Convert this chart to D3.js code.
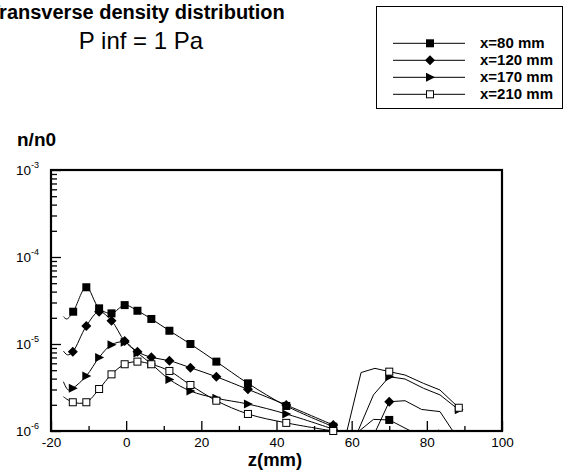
<!DOCTYPE html>
<html>
<head>
<meta charset="utf-8">
<script src="https://cdn.jsdelivr.net/npm/d3@7"></script>
<style>
  body { margin: 0; background: #fff; }
  svg { display: block; font-family: "Liberation Sans", Arial, sans-serif; }
</style>
</head>
<body>
<div class="chart"></div>
<script>
// DATA ------------------------------
const seriesNames = ["x=80 mm", "x=120 mm", "x=170 mm", "x=210 mm"];
const seriesSymbols = ["sq", "dia", "tri", "osq"];

// [z (mm), n/n0, symbol drawn? 1/0]
const x80 = [
  [-16.7, 2.06e-5, 0], [-15.8, 1.94e-5, 0],
  [-14.1, 2.35e-5, 1], [-10.6, 4.49e-5, 1], [-7.2, 2.57e-5, 1], [-3.9, 2.25e-5, 1],
  [-0.4, 2.8e-5, 1], [3.0, 2.41e-5, 1], [6.7, 1.94e-5, 1], [11.5, 1.42e-5, 1],
  [17.1, 1.0e-5, 1], [24.0, 6.27e-6, 1], [32.4, 3.53e-6, 1], [42.6, 1.94e-6, 1],
  [55.1, 1.12e-6, 1], [59.0, 6.5e-7, 0], [62.0, 1.0e-6, 0], [65.8, 1.36e-6, 0],
  [70.0, 1.34e-6, 1], [75.7, 1.0e-6, 0], [79.5, 7.5e-7, 0], [83.2, 1.03e-6, 0], [86.5, 7e-7, 0]
];
const x120 = [
  [-16.7, 8.3e-6, 0], [-15.6, 7.5e-6, 0],
  [-14.2, 8.15e-6, 1], [-10.6, 1.61e-5, 1], [-7.2, 2.35e-5, 1], [-3.9, 1.85e-5, 1],
  [-0.4, 1.08e-5, 1], [3.0, 8.15e-6, 1], [6.7, 7.03e-6, 1], [11.5, 6.43e-6, 1],
  [17.1, 5.34e-6, 1], [24.0, 4.2e-6, 1], [32.4, 3.01e-6, 1], [42.6, 1.99e-6, 1],
  [55.1, 1.17e-6, 1], [59.5, 6e-7, 0], [64.0, 6e-7, 0], [70.0, 2.17e-6, 1],
  [74.2, 2.23e-6, 0], [78.6, 1.77e-6, 0], [83.5, 1.67e-6, 0], [88.0, 8.5e-7, 0]
];
const x170 = [
  [-16.7, 3.69e-6, 0], [-15.4, 2.96e-6, 0],
  [-14.2, 3.1e-6, 1], [-10.6, 4.3e-6, 1], [-7.2, 7.0e-6, 1], [-3.9, 9.8e-6, 1],
  [-0.4, 1.05e-5, 1], [3.0, 7.9e-6, 1], [6.7, 5.9e-6, 1], [11.5, 3.92e-6, 1],
  [17.1, 2.88e-6, 1], [24.0, 2.38e-6, 1], [32.4, 2.04e-6, 1], [42.6, 1.57e-6, 1],
  [55.1, 1.05e-6, 1], [59.5, 6e-7, 0], [65.8, 2.6e-6, 0], [70.0, 4.2e-6, 1],
  [74.2, 3.96e-6, 0], [79.1, 3.1e-6, 0], [83.5, 2.6e-6, 0], [88.5, 1.75e-6, 1]
];
const x210 = [
  [-16.7, 2.48e-6, 0],
  [-14.2, 2.14e-6, 1], [-10.6, 2.14e-6, 1], [-7.2, 3.04e-6, 1], [-3.9, 4.48e-6, 1],
  [-0.4, 5.85e-6, 1], [3.0, 6.27e-6, 1], [6.7, 5.85e-6, 1], [11.5, 4.9e-6, 1],
  [17.1, 3.38e-6, 1], [24.0, 2.23e-6, 1], [32.4, 1.57e-6, 1], [42.6, 1.24e-6, 1],
  [55.1, 1.0e-6, 1], [57.5, 6e-7, 0], [62.5, 4.7e-6, 0], [66.2, 5.25e-6, 0],
  [70.0, 4.81e-6, 1], [74.2, 4.4e-6, 0], [79.1, 3.53e-6, 0], [83.5, 2.96e-6, 0], [88.5, 1.85e-6, 1]
];
const allSeries = [x80, x120, x170, x210];

const xMajor = [-20, 0, 20, 40, 60, 80, 100];
const xMinor = [-10, 10, 30, 50, 70, 90];
const yMajor = [1e-6, 1e-5, 1e-4, 1e-3];
const yExp = ["-6", "-5", "-4", "-3"];

// CHART ------------------------------
const W = 566, H = 471;
const plot = {left: 51, right: 502, top: 170, bottom: 431};
const zSplit = 55.1; // smooth curves left of this, straight segments right of it

const svg = d3.select(".chart")
  .append("svg")
  .attr("width", W)
  .attr("height", H);

const xScale = d3.scaleLinear().domain([-20, 100]).range([plot.left, plot.right]);
const yScale = d3.scaleLog().domain([1e-6, 1e-3]).range([plot.bottom, plot.top]);

// minor log ticks 2..9 per decade
const yMinor = [];
[-6, -5, -4].forEach(e => { for (let k = 2; k <= 9; k++) yMinor.push(k * Math.pow(10, e)); });

svg.append("defs").append("clipPath").attr("id", "clip")
  .append("rect")
  .attr("x", plot.left).attr("y", plot.top)
  .attr("width", plot.right - plot.left).attr("height", plot.bottom - plot.top);

// x axis
const xAx = svg.append("g").attr("class", "axis x-axis")
  .attr("transform", `translate(0, ${plot.bottom})`)
  .call(d3.axisBottom(xScale).tickValues(xMajor).tickSize(-10).tickPadding(6).tickFormat(d => String(d)));
svg.append("g").attr("transform", `translate(0, ${plot.bottom})`)
  .call(d3.axisBottom(xScale).tickValues(xMinor).tickSize(-5).tickFormat(""))
  .call(g => g.select(".domain").remove());
xAx.select(".domain").remove();
xAx.selectAll("text").attr("font-size", 13.5).attr("fill", "#000").attr("font-family", "Liberation Sans, Arial, sans-serif");

// y axis
svg.append("g").attr("transform", `translate(${plot.left}, 0)`)
  .call(d3.axisLeft(yScale).tickValues(yMajor).tickSize(-10).tickFormat(""))
  .call(g => g.select(".domain").remove());
svg.append("g").attr("transform", `translate(${plot.left}, 0)`)
  .call(d3.axisLeft(yScale).tickValues(yMinor).tickSize(-6).tickFormat(""))
  .call(g => g.select(".domain").remove());
svg.selectAll(".tick line").attr("stroke", "#000").attr("stroke-width", 1.3);

const yLab = svg.append("g").selectAll("text")
  .data(yMajor)
  .join("text")
  .attr("x", 39)
  .attr("y", d => yScale(d) + 5)
  .attr("text-anchor", "end")
  .attr("font-size", 13.5);
yLab.append("tspan").text("10");
yLab.append("tspan").attr("font-size", 9).attr("dy", -7).text((d, i) => yExp[i]);

// frame
svg.append("rect")
  .attr("x", plot.left).attr("y", plot.top)
  .attr("width", plot.right - plot.left).attr("height", plot.bottom - plot.top)
  .attr("fill", "none").attr("stroke", "#000").attr("stroke-width", 2.2);

// lines
const smooth = d3.line()
  .x(d => xScale(d[0]))
  .y(d => yScale(d[1]))
  .curve(d3.curveCatmullRom.alpha(0.5));
const straight = d3.line()
  .x(d => xScale(d[0]))
  .y(d => yScale(d[1]));

const lines = svg.append("g").attr("clip-path", "url(#clip)");
allSeries.forEach(s => {
  lines.append("path")
    .attr("d", smooth(s.filter(d => d[0] <= zSplit)) + straight(s.filter(d => d[0] >= zSplit)))
    .attr("fill", "none")
    .attr("stroke", "#000")
    .attr("stroke-width", 1);
});

function marker(g, kind, x, y) {
  if (kind === "sq") {
    g.append("rect").attr("x", x - 4).attr("y", y - 4).attr("width", 8).attr("height", 8).attr("fill", "#000");
  } else if (kind === "osq") {
    g.append("rect").attr("x", x - 3.5).attr("y", y - 3.5).attr("width", 7).attr("height", 7)
      .attr("fill", "#fff").attr("stroke", "#000").attr("stroke-width", 1);
  } else if (kind === "dia") {
    g.append("path").attr("d", `M${x},${y - 5}L${x + 5},${y}L${x},${y + 5}L${x - 5},${y}Z`).attr("fill", "#000");
  } else {
    g.append("path").attr("d", `M${x - 4},${y - 4.5}L${x + 5},${y}L${x - 4},${y + 4.5}Z`).attr("fill", "#000");
  }
}

const marks = svg.append("g");
allSeries.forEach((s, i) => {
  s.filter(d => d[2] === 1).forEach(d => marker(marks, seriesSymbols[i], xScale(d[0]), yScale(d[1])));
});

// titles
svg.append("text").attr("x", -12).attr("y", 19)
  .attr("font-size", 20).attr("font-weight", "bold")
  .text("Transverse density distribution");
svg.append("text").attr("x", 141).attr("y", 49).attr("text-anchor", "middle")
  .attr("font-size", 24)
  .text("P inf = 1 Pa");
svg.append("text").attr("x", 17).attr("y", 146)
  .attr("font-size", 19).attr("font-weight", "bold")
  .text("n/n0");
svg.append("text").attr("x", 275).attr("y", 466).attr("text-anchor", "middle")
  .attr("font-size", 18.5).attr("font-weight", "bold")
  .text("z(mm)");

// legend
const leg = svg.append("g");
leg.append("rect").attr("x", 376.5).attr("y", 6.5).attr("width", 186).attr("height", 102)
  .attr("fill", "#fff").attr("stroke", "#000").attr("stroke-width", 1);
seriesNames.forEach((name, i) => {
  const yy = 43.3 + i * 17;
  leg.append("line").attr("x1", 393).attr("x2", 465).attr("y1", yy).attr("y2", yy)
    .attr("stroke", "#000").attr("stroke-width", 1);
  marker(leg, seriesSymbols[i], 430, yy);
  leg.append("text").attr("x", 480).attr("y", yy + 5)
    .attr("font-size", 15).attr("font-weight", "bold").text(name);
});
</script>
</body>
</html>
